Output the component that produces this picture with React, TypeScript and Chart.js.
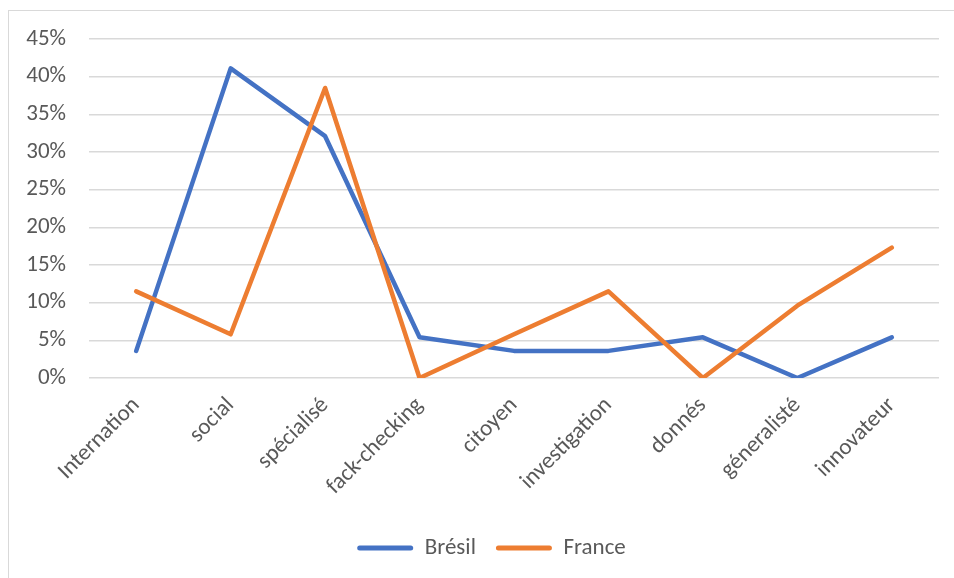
import React, { useEffect, useRef } from "react";
import { Chart, registerables } from "chart.js";

Chart.register(...registerables);

const categories = [
  "Internation",
  "social",
  "spécialisé",
  "fack-checking",
  "citoyen",
  "investigation",
  "donnés",
  "géneralisté",
  "innovateur",
];
const bresil = [3.6, 41.1, 32.1, 5.4, 3.6, 3.6, 5.4, 0, 5.4];
const france = [11.5, 5.8, 38.5, 0, 5.8, 11.5, 0, 9.6, 17.3];
const seriesNames = ["Brésil", "France"];
const yMax = 45;
const yStep = 5;

const FONT = "Carlito, Calibri, 'Liberation Sans', sans-serif";

const legendShift = {
  id: "legendShift",
  afterLayout(chart: any) {
    const l = chart.legend;
    if (l) {
      l.left += 22;
      l.right += 22;
    }
  },
};

export default function App() {
  const ref = useRef<HTMLCanvasElement | null>(null);
  useEffect(() => {
    if (!ref.current) return;
    const chart = new Chart(ref.current, {
      type: "line",
      data: {
        labels: categories,
        datasets: [
          {
            label: seriesNames[0],
            data: bresil,
            borderColor: "#4472C4",
            backgroundColor: "#4472C4",
            borderWidth: 4.5,
            pointRadius: 0,
            tension: 0,
            borderCapStyle: "round",
            borderJoinStyle: "round",
            order: 1,
          },
          {
            label: seriesNames[1],
            data: france,
            borderColor: "#ED7D31",
            backgroundColor: "#ED7D31",
            borderWidth: 4.5,
            pointRadius: 0,
            tension: 0,
            borderCapStyle: "round",
            borderJoinStyle: "round",
            order: 0,
          },
        ],
      },
      plugins: [legendShift],
      options: {
        animation: false,
        responsive: false,
        maintainAspectRatio: false,
        layout: { padding: { left: 0, right: 15, top: 39, bottom: 8.5 } },
        plugins: {
          tooltip: { enabled: false },
          legend: {
            position: "bottom",
            labels: {
              font: { family: FONT, size: 23 },
              color: "#595959",
              boxWidth: 56,
              boxHeight: 5,
              padding: 20,
              useBorderRadius: true,
              borderRadius: 2.5,
              sort: (a: any, b: any) => a.datasetIndex - b.datasetIndex,
              generateLabels: (c: any) => {
                const items = Chart.defaults.plugins.legend.labels.generateLabels(c);
                return items.map((it: any) => ({
                  ...it,
                  fillStyle: it.strokeStyle,
                  lineWidth: 0,
                }));
              },
            },
          },
        },
        scales: {
          x: {
            offset: true,
            grid: { display: false },
            border: { display: false },
            ticks: {
              font: { family: FONT, size: 23 },
              color: "#595959",
              minRotation: 45,
              maxRotation: 45,
              autoSkip: false,
              padding: 6,
            },
            afterFit: (s: any) => {
              s.height = 138.5;
            },
          },
          y: {
            min: 0,
            max: yMax,
            grid: { color: "#d9d9d9", lineWidth: 1.5, drawTicks: false },
            border: { display: false },
            ticks: {
              stepSize: yStep,
              font: { family: FONT, size: 23 },
              color: "#595959",
              padding: 23,
              callback: (v: any) => v + "%",
            },
            afterFit: (s: any) => {
              s.width = 89;
            },
          },
        },
      },
    });
    return () => chart.destroy();
  }, []);
  return (
    <div style={{ position: "absolute", left: 0, top: 0, width: 954, height: 578, background: "#fff", overflow: "hidden" }}>
      <div
        style={{
          position: "absolute",
          left: 8,
          top: 10,
          width: 960,
          height: 600,
          borderLeft: "1px solid #d9d9d9",
          borderTop: "1px solid #d9d9d9",
        }}
      />
      <canvas ref={ref} width={954} height={578} style={{ position: "absolute", left: 0, top: 0 }} />
    </div>
  );
}
